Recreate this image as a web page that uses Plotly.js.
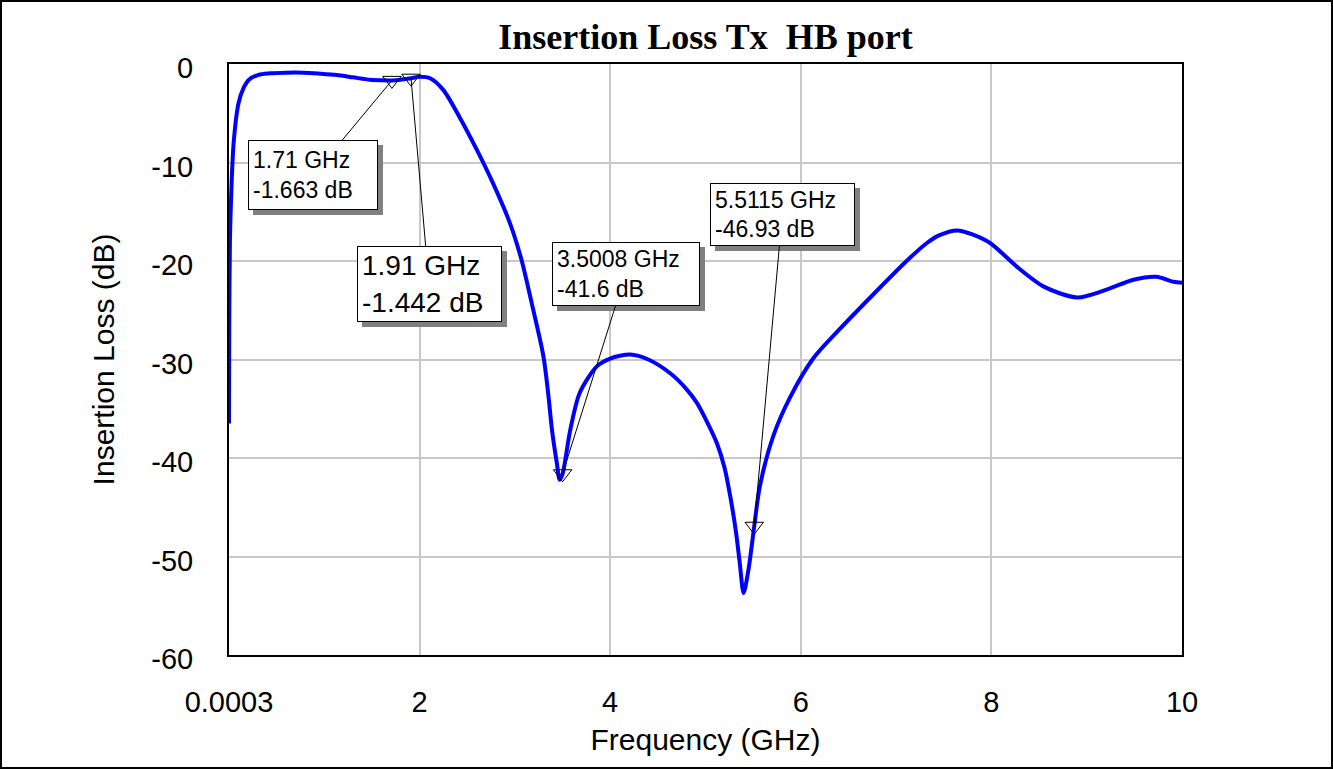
<!DOCTYPE html>
<html>
<head>
<meta charset="utf-8">
<script src="https://cdn.plot.ly/plotly-3.0.1.min.js"></script>
<style>
  html, body { margin: 0; padding: 0; background: #fff; }
  #chart { width: 1329px; height: 765px; border: 2px solid #000; }
</style>
</head>
<body>
<div id="chart"></div>
<script>
// Frequency (GHz)
const freq = [0.0003, 0.003, 0.01, 0.024, 0.049, 0.1, 0.15, 0.21, 0.31, 0.43, 0.6, 0.78, 0.95, 1.13, 1.3, 1.48, 1.6, 1.71, 1.8, 1.91, 2.0, 2.11, 2.25, 2.42, 2.6, 2.77, 2.95, 3.07, 3.17, 3.3, 3.35, 3.39, 3.44, 3.47, 3.5008, 3.58, 3.68, 3.86, 4.0, 4.21, 4.4, 4.63, 4.8, 4.91, 5.02, 5.12, 5.2, 5.26, 5.32, 5.36, 5.4, 5.45, 5.5115, 5.57, 5.71, 5.89, 6.13, 6.41, 6.76, 7.11, 7.32, 7.45, 7.64, 7.8, 7.99, 8.27, 8.55, 8.9, 9.21, 9.49, 9.73, 9.91, 10];
// Insertion loss (dB)
const loss = [-36.5, -26.7, -18, -13.1, -8.0, -4.0, -2.5, -1.6, -1.1, -0.95, -0.88, -0.88, -0.98, -1.12, -1.35, -1.6, -1.65, -1.663, -1.6, -1.442, -1.3, -1.45, -2.65, -5.4, -8.7, -12.1, -16.2, -19.9, -24.0, -29.7, -33.5, -37.2, -40.5, -42.2, -41.6, -37.2, -33.4, -30.7, -29.9, -29.5, -30.0, -31.4, -33.0, -34.4, -36.4, -38.5, -41.0, -43.9, -47.5, -50.7, -53.7, -51.4, -46.93, -42.9, -37.8, -33.8, -29.9, -26.9, -23.4, -20.0, -18.2, -17.4, -16.9, -17.3, -18.2, -20.6, -22.6, -23.7, -22.9, -21.9, -21.6, -22.1, -22.2];

// Markers
const markerFreq = [1.71, 1.91, 3.5008, 5.5115];
const markerLoss = [-1.663, -1.442, -41.6, -46.93];
const markerText = ["1.71 GHz<br>-1.663 dB", "1.91 GHz<br>-1.442 dB", "3.5008 GHz<br>-41.6 dB", "5.5115 GHz<br>-46.93 dB"];

// Axis ticks
const xTickVals = [0.0003, 2, 4, 6, 8, 10];
const xTickText = ["0.0003", "2", "4", "6", "8", "10"];
const yTickVals = [0, -10, -20, -30, -40, -50, -60];
const yTickText = ["0", "-10", "-20", "-30", "-40", "-50", "-60"];

// Label box styling (pixel offsets from marker, box size, font size)
const boxStyle = [
  {ax: -79, ay: 95, w: 120, h: 60, size: 23},
  {ax: 18, ay: 206, w: 135, h: 66, size: 28},
  {ax: 63, ay: -200, w: 138, h: 54, size: 23},
  {ax: 28, ay: -312, w: 135, h: 53, size: 23}
];

const FONT = "Liberation Sans, Arial, sans-serif";

const traces = [
  {
    x: freq, y: loss, type: "scatter", mode: "lines",
    line: {color: "#0000ff", width: 4, shape: "spline", smoothing: 0.8},
    hoverinfo: "x+y"
  },
  {
    x: markerFreq, y: markerLoss, type: "scatter", mode: "markers",
    marker: {symbol: "triangle-down-open", size: 16, color: "#000", line: {width: 1}},
    hoverinfo: "x+y"
  }
];

const annotations = [];
markerFreq.forEach((f, i) => {
  const s = boxStyle[i];
  // drop shadow box
  annotations.push({
    x: f, y: markerLoss[i], xref: "x", yref: "y",
    text: "&nbsp;", width: s.w, height: s.h,
    font: {family: FONT, size: s.size, color: "#808080"},
    showarrow: true, ax: s.ax + 5, ay: s.ay + 5,
    arrowcolor: "rgba(0,0,0,0)", arrowhead: 0,
    bgcolor: "#808080", bordercolor: "#808080", borderwidth: 1, borderpad: 4
  });
  // label box with leader line
  annotations.push({
    x: f, y: markerLoss[i], xref: "x", yref: "y",
    text: markerText[i], align: "left", width: s.w, height: s.h,
    font: {family: FONT, size: s.size, color: "#000"},
    showarrow: true, ax: s.ax, ay: s.ay,
    arrowcolor: "#000", arrowhead: 0, arrowwidth: 1, standoff: 0,
    bgcolor: "#fff", bordercolor: "#000", borderwidth: 1, borderpad: 4
  });
});

const layout = {
  width: 1329, height: 765,
  margin: {l: 227, r: 149, t: 62, b: 112},
  paper_bgcolor: "#fff", plot_bgcolor: "#fff",
  showlegend: false,
  title: {
    text: "<b>Insertion Loss Tx  HB port</b>",
    font: {family: "Liberation Serif, Times New Roman, serif", size: 36, color: "#000"},
    x: 0.5, xref: "paper", y: 0.955, yanchor: "middle"
  },
  xaxis: {
    range: [0.0003, 10],
    tickmode: "array", tickvals: xTickVals, ticktext: xTickText,
    tickfont: {family: FONT, size: 29, color: "#000"},
    ticks: "outside", ticklen: 20, tickcolor: "rgba(0,0,0,0)",
    showgrid: true, gridcolor: "#c8c8c8", gridwidth: 2,
    zeroline: false,
    showline: true, mirror: true, linecolor: "#000", linewidth: 2,
    title: {text: "Frequency (GHz)", font: {family: FONT, size: 30, color: "#000"}, standoff: 12}
  },
  yaxis: {
    range: [-60, 0],
    tickmode: "array", tickvals: yTickVals, ticktext: yTickText,
    tickfont: {family: FONT, size: 29, color: "#000"},
    ticks: "outside", ticklen: 28, tickcolor: "rgba(0,0,0,0)",
    ticklabelshift: 4,
    showgrid: true, gridcolor: "#c8c8c8", gridwidth: 2,
    zeroline: false,
    showline: true, mirror: true, linecolor: "#000", linewidth: 2,
    title: {text: "Insertion Loss (dB)", font: {family: FONT, size: 30, color: "#000"}, standoff: 28}
  },
  annotations: annotations
};

Plotly.newPlot("chart", traces, layout, {displayModeBar: false});
</script>
</body>
</html>
